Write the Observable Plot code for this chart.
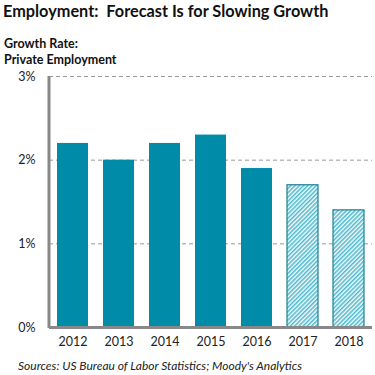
<!DOCTYPE html>
<html><head><meta charset="utf-8">
<script src="https://cdn.jsdelivr.net/npm/d3@7"></script>
<script src="https://cdn.jsdelivr.net/npm/@observablehq/plot@0.6"></script>
<style>
body{margin:0;background:#fff;font-family:Lato,"Open Sans",sans-serif;width:375px;height:375px;overflow:hidden}
#title{position:absolute;left:3px;top:1px;font-size:16.3px;font-weight:bold;color:#111;white-space:pre}
#sub{position:absolute;left:4px;top:36px;font-size:12.5px;font-weight:bold;color:#111;line-height:16px}
#chart{position:absolute;left:0;top:68px}
#cap{position:absolute;left:18px;top:358px;font-size:12px;font-style:italic;color:#222}
</style></head><body>
<div id="title">Employment:  Forecast Is for Slowing Growth</div>
<div id="sub">Growth Rate:<br>Private Employment</div>
<div id="chart"></div>
<div id="cap">Sources: US Bureau of Labor Statistics; Moody's Analytics</div>
<script>
const years = ["2012","2013","2014","2015","2016","2017","2018"];
const growth = [2.2, 2.0, 2.2, 2.3, 1.9, 1.7, 1.4];
const forecast = [false, false, false, false, false, true, true];
const yTicks = [0, 1, 2, 3];

const data = years.map((y, i) => ({year: y, value: growth[i], forecast: forecast[i]}));

const plot = Plot.plot({
  width: 375,
  height: 290,
  marginLeft: 49,
  marginRight: 3,
  marginTop: 8,
  marginBottom: 31,
  style: {fontFamily: "Lato, 'Open Sans', sans-serif", fontSize: "12.5px", color: "#222"},
  x: {domain: years, paddingInner: 0.33, paddingOuter: 0.16, label: null},
  y: {domain: [0, 3], ticks: yTicks, label: null, tickFormat: d => d + "%"},
  marks: [
    Plot.gridY(yTicks.filter(t => t > 0), {stroke: "#999", strokeOpacity: 1, strokeDasharray: "4,3"}),
    Plot.barY(data.filter(d => !d.forecast), {x: "year", y: "value", fill: "#008ba8"}),
    Plot.barY(data.filter(d => d.forecast), {x: "year", y: "value", fill: "url(#hatch)", stroke: "#1a7f94", strokeWidth: 1.2}),
    Plot.axisY({ticks: yTicks, tickSize: 0, tickPadding: 14, tickFormat: d => d + "%", fontSize: 12.5}),
    Plot.axisX({tickSize: 0, tickPadding: 10, fontSize: 12.5}),
    Plot.ruleY([0], {stroke: "#888", strokeWidth: 3})
  ]
});

const ns = "http://www.w3.org/2000/svg";
const defs = document.createElementNS(ns, "defs");
defs.innerHTML = `<pattern id="hatch" patternUnits="userSpaceOnUse" width="3" height="3" patternTransform="rotate(45)">
  <rect width="3" height="3" fill="#ffffff"/>
  <rect width="1.6" height="3" fill="#4fbad0"/>
</pattern>`;
plot.insertBefore(defs, plot.firstChild);

const line = document.createElementNS(ns, "line");
line.setAttribute("x1", 49); line.setAttribute("x2", 49);
line.setAttribute("y1", 8); line.setAttribute("y2", 260);
line.setAttribute("stroke", "#888"); line.setAttribute("stroke-width", 3);
plot.appendChild(line);

document.getElementById("chart").appendChild(plot);
</script>
</body></html>
